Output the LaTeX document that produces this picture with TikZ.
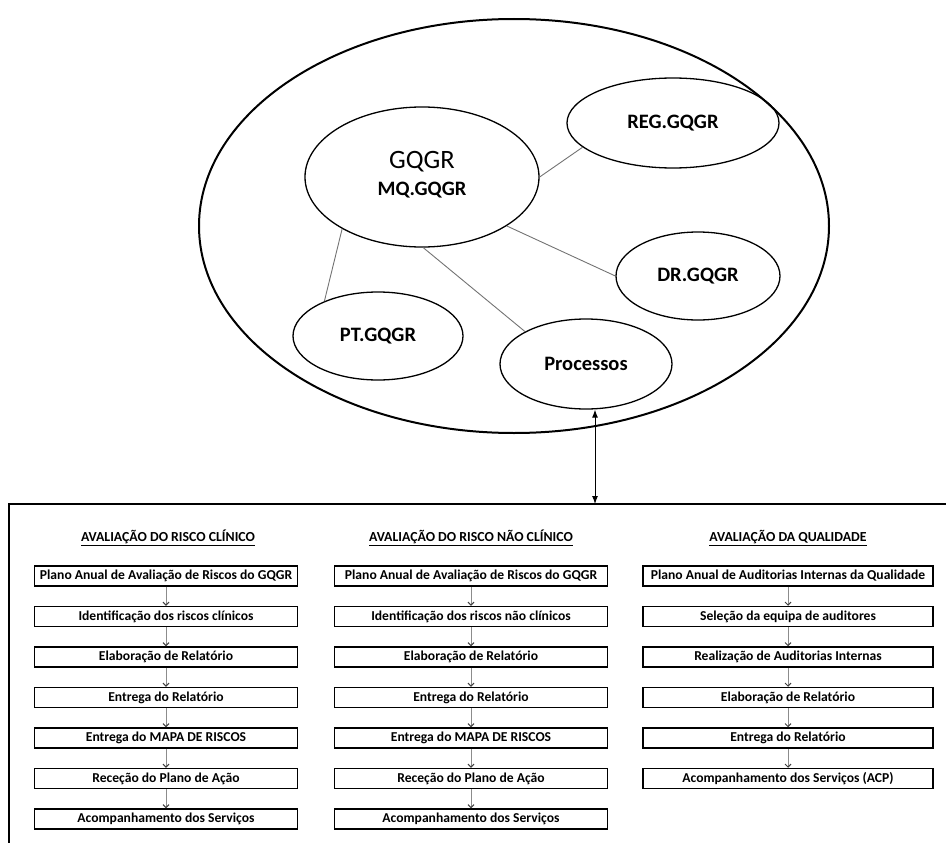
\documentclass[tikz,border=0pt]{standalone}
\usepackage{fontspec}
\setmainfont{Carlito}
\usetikzlibrary{arrows.meta,calc,shapes.geometric}
\begin{document}
\begin{tikzpicture}[x=1pt,y=-1pt,
  bigoval/.style={ellipse,draw,line width=2pt,inner sep=0pt},
  oval/.style={ellipse,draw,line width=1.3pt,inner sep=0pt,font=\bfseries\fontsize{20.5}{22}\selectfont},
  link/.style={draw=black!55,line width=0.9pt},
  header/.style={font=\bfseries\fontsize{13.8}{15}\selectfont},
  stepbox/.style={draw,line width=1.5pt,minimum height=20pt,inner sep=0pt,font=\bfseries\fontsize{13.6}{15}\selectfont},
  flow/.style={draw=black!45,line width=1pt,-{Straight Barb[length=3pt,width=6pt,color=black!75]}},
  frame/.style={line width=1.6pt}]
\useasboundingbox (0,0) rectangle (946,843);

% outline of the quality and risk management system
\node[bigoval,minimum width=630pt,minimum height=414pt] (sys) at (514,226) {};

% documents of the system
\node[oval,minimum width=234pt,minimum height=140pt] (g) at (422,177)
  {\begin{tabular}{c}{\mdseries\fontsize{26.5}{28}\selectfont GQGR}\\[5pt]MQ.GQGR\end{tabular}};
\node[oval,minimum width=212pt,minimum height=90pt] (reg) at (673,123) {REG.GQGR};
\node[oval,minimum width=164pt,minimum height=88pt] (dr) at (698,276) {DR.GQGR};
\node[oval,minimum width=170pt,minimum height=88pt] (pt) at (378,336) {PT.GQGR};
\node[oval,minimum width=172pt,minimum height=90pt] (proc) at (586,364) {Processos};

\draw[link] (g.0) -- (reg.195);
\draw[link] (g.330) -- (dr.180);
\draw[link] (g.213) -- (pt.147);
\draw[link] (g.271) -- (proc.152);

% open frame around the three evaluation flows
\coordinate (fbl) at (9,843);
\coordinate (ftl) at (9,504);
\coordinate (ftr) at (946,504);
\draw[frame] (fbl) -- (ftl) -- (ftr);
\coordinate (fa) at (595,504);
\coordinate (pa) at ($(proc.south)+(9,0)$);
\draw[line width=1pt,{Latex[length=8pt,width=6pt]}-{Latex[length=8pt,width=6pt]}] (pa) -- (fa);

% column headers
\node[header] (h1) at (168,538) {\underline{AVALIAÇÃO DO RISCO CLÍNICO}};
\node[header] (h2) at (471,538) {\underline{AVALIAÇÃO DO RISCO NÃO CLÍNICO}};
\node[header] (h3) at (788,538) {\underline{AVALIAÇÃO DA QUALIDADE}};

% clinical risk flow
\foreach \t [count=\i] in {Plano Anual de Avaliação de Riscos do GQGR,Identificação dos riscos clínicos,Elaboração de Relatório,Entrega do Relatório,Entrega do MAPA DE RISCOS,Receção do Plano de Ação,Acompanhamento dos Serviços}
  \node[stepbox,minimum width=263pt] (a\i) at (166,{576+40.5*(\i-1)}) {\t};
\foreach \i [evaluate=\i as \j using int(\i+1)] in {1,...,6}
  \draw[flow] (a\i) -- (a\j);

% non-clinical risk flow
\foreach \t [count=\i] in {Plano Anual de Avaliação de Riscos do GQGR,Identificação dos riscos não clínicos,Elaboração de Relatório,Entrega do Relatório,Entrega do MAPA DE RISCOS,Receção do Plano de Ação,Acompanhamento dos Serviços}
  \node[stepbox,minimum width=273pt] (b\i) at (471,{576+40.5*(\i-1)}) {\t};
\foreach \i [evaluate=\i as \j using int(\i+1)] in {1,...,6}
  \draw[flow] (b\i) -- (b\j);

% quality audit flow
\foreach \t [count=\i] in {Plano Anual de Auditorias Internas da Qualidade,Seleção da equipa de auditores,Realização de Auditorias Internas,Elaboração de Relatório,Entrega do Relatório,Acompanhamento dos Serviços (ACP)}
  \node[stepbox,minimum width=290pt] (c\i) at (788,{576+40.5*(\i-1)}) {\t};
\foreach \i [evaluate=\i as \j using int(\i+1)] in {1,...,5}
  \draw[flow] (c\i) -- (c\j);
\end{tikzpicture}
\end{document}
